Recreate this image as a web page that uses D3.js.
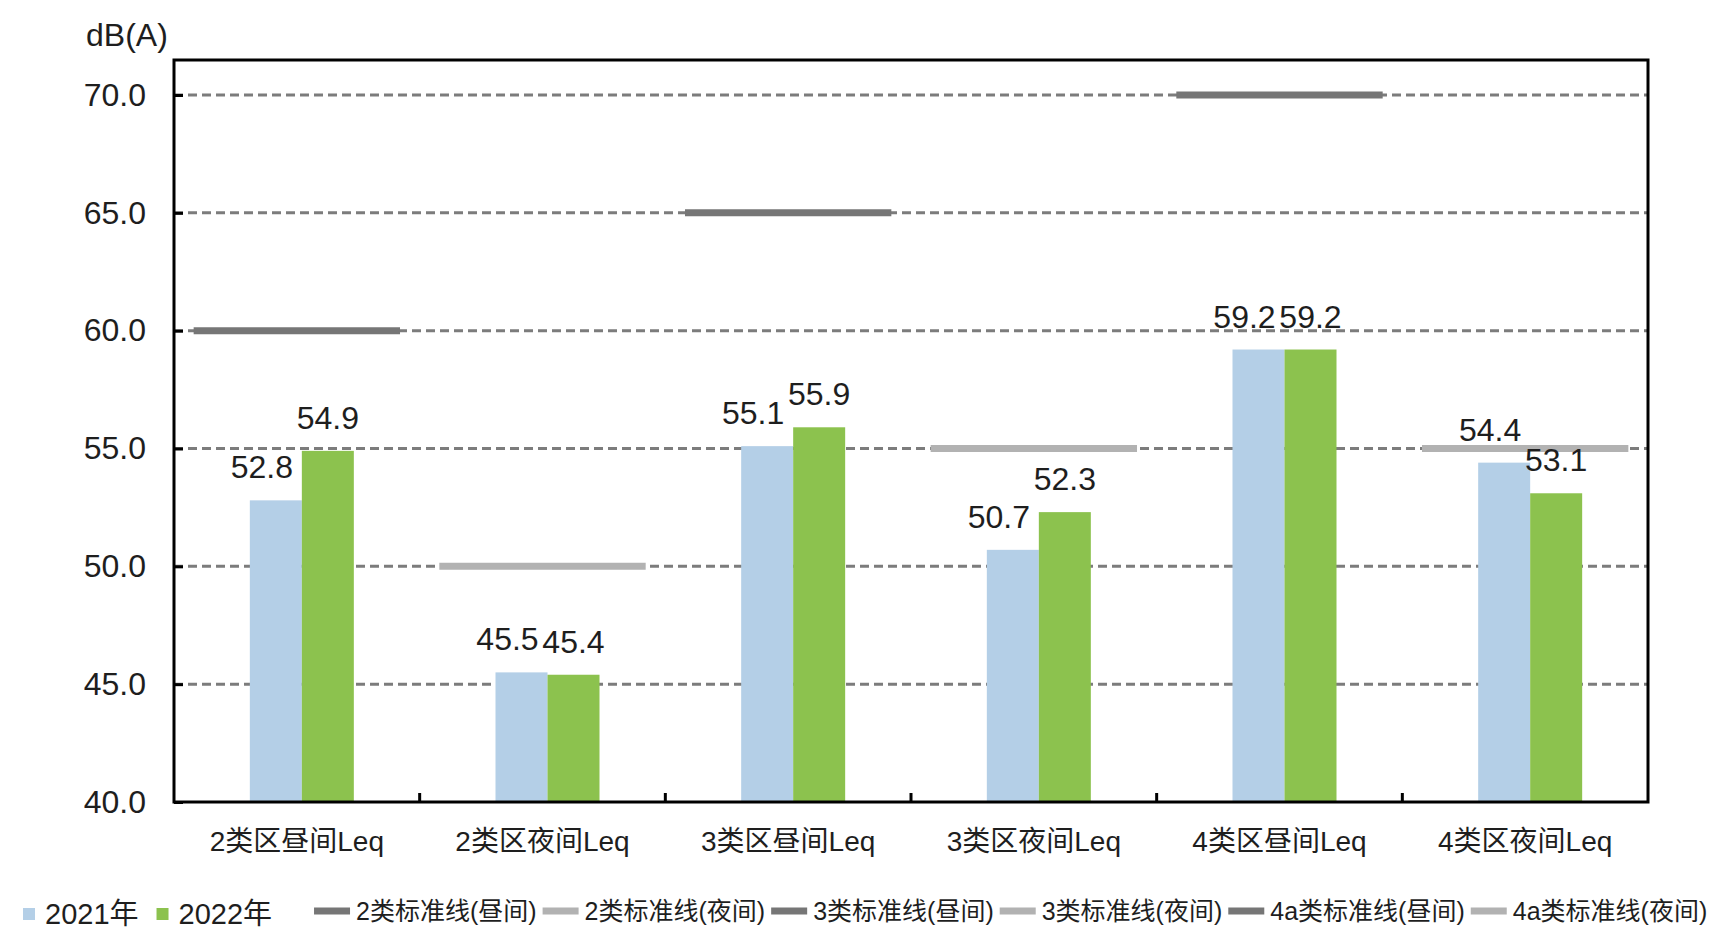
<!DOCTYPE html>
<html>

<head>
    <meta charset="utf-8">
    <script src="https://d3js.org/d3.v7.min.js"></script>
    <style>
        body { margin: 0; background: #fff; }
        svg text { font-family: "Liberation Sans", Arial, "Noto Sans CJK SC", sans-serif; fill: #1e1e1e; }
    </style>
</head>

<body>
    <div id="chart"></div>

    <script>
        // data
        const categories = ["2类区昼间Leq", "2类区夜间Leq", "3类区昼间Leq", "3类区夜间Leq", "4类区昼间Leq", "4类区夜间Leq"]
        const years = ["2021年", "2022年"]
        const values2021 = [52.8, 45.5, 55.1, 50.7, 59.2, 54.4]
        const values2022 = [54.9, 45.4, 55.9, 52.3, 59.2, 53.1]
        const standardNames = ["2类标准线(昼间)", "2类标准线(夜间)", "3类标准线(昼间)", "3类标准线(夜间)", "4a类标准线(昼间)", "4a类标准线(夜间)"]
        const standardValues = [60, 50, 65, 55, 70, 55]
        const yTicks = [40, 45, 50, 55, 60, 65, 70]
        const yUnit = "dB(A)"

        const width = 1733, height = 931
        const plot = { left: 174, right: 1648, top: 60, bottom: 802 }

        const svg = d3.select("#chart").append("svg")
            .attr("width", width)
            .attr("height", height)

        const x = d3.scaleBand().domain(categories).range([plot.left, plot.right])
        const y = d3.scaleLinear().domain([40, 70]).range([plot.bottom, 95])

        const yearColor = d3.scaleOrdinal().domain(years).range(["#b4cfe7", "#8cc24e"])
        // day lines dark, night lines light
        const stdColor = i => i % 2 === 0 ? "#767676" : "#b2b2b2"

        // dashed grid lines
        svg.append("g")
            .selectAll("line")
            .data(yTicks.slice(1))
            .join("line")
            .attr("x1", plot.left)
            .attr("x2", plot.right)
            .attr("y1", d => y(d))
            .attr("y2", d => y(d))
            .attr("stroke", "#7c7c7c")
            .attr("stroke-width", 3)
            .attr("stroke-dasharray", "9,5")

        // standard lines, one per category
        svg.append("g")
            .selectAll("line")
            .data(standardValues)
            .join("line")
            .attr("x1", (d, i) => x(categories[i]) + x.bandwidth() * 0.08)
            .attr("x2", (d, i) => x(categories[i]) + x.bandwidth() * 0.92)
            .attr("y1", d => y(d))
            .attr("y2", d => y(d))
            .attr("stroke", (d, i) => stdColor(i))
            .attr("stroke-width", 7)

        // grouped bars
        const barW = 52
        const xSub = d3.scaleBand().domain(years).range([0, barW * 2])
        const rows = categories.map((c, i) => ({ cat: c, vals: [values2021[i], values2022[i]] }))

        const groups = svg.append("g")
            .selectAll("g")
            .data(rows)
            .join("g")
            .attr("transform", d => `translate(${x(d.cat) + x.bandwidth() / 2 - barW + 5},0)`)

        const cells = groups.selectAll("g")
            .data(d => years.map((yr, j) => ({ year: yr, value: d.vals[j] })))
            .join("g")

        cells.append("rect")
            .attr("x", d => xSub(d.year))
            .attr("y", d => y(d.value))
            .attr("width", xSub.bandwidth())
            .attr("height", d => plot.bottom - y(d.value))
            .attr("fill", d => yearColor(d.year))

        cells.append("text")
            .attr("x", d => xSub(d.year) + xSub.bandwidth() / 2 + (d.year === years[0] ? -14 : 0))
            .attr("y", d => y(d.value) - 22)
            .attr("text-anchor", "middle")
            .style("font-size", "32px")
            .text(d => d.value.toFixed(1))

        // y axis (ticks point inward)
        const yAxis = svg.append("g")
            .attr("transform", `translate(${plot.left},0)`)
            .call(d3.axisLeft(y).tickValues(yTicks).tickFormat(d3.format(".1f")).tickSize(-9).tickPadding(28))
        yAxis.select(".domain").remove()
        yAxis.selectAll("line").attr("stroke", "#000").attr("stroke-width", 3)
        yAxis.selectAll("text").style("font-size", "32px").attr("fill", "#1e1e1e")

        // x axis labels
        const xAxis = svg.append("g")
            .attr("transform", `translate(0,${plot.bottom})`)
            .call(d3.axisBottom(x).tickSize(0).tickPadding(29))
        xAxis.select(".domain").remove()
        xAxis.selectAll("text").style("font-size", "28px").attr("fill", "#1e1e1e")

        // ticks between categories
        svg.append("g")
            .selectAll("line")
            .data(categories.slice(1))
            .join("line")
            .attr("x1", d => x(d))
            .attr("x2", d => x(d))
            .attr("y1", plot.bottom)
            .attr("y2", plot.bottom - 9)
            .attr("stroke", "#000")
            .attr("stroke-width", 3)

        // frame
        svg.append("rect")
            .attr("x", plot.left)
            .attr("y", plot.top)
            .attr("width", plot.right - plot.left)
            .attr("height", plot.bottom - plot.top)
            .attr("fill", "none")
            .attr("stroke", "#000")
            .attr("stroke-width", 3)

        // unit
        svg.append("text")
            .attr("x", 86)
            .attr("y", 46)
            .style("font-size", "32px")
            .text(yUnit)

        // legend along the bottom
        const legend = svg.append("g")
        let cursor = 23
        years.forEach(yr => {
            legend.append("rect")
                .attr("x", cursor).attr("y", 908)
                .attr("width", 12).attr("height", 12)
                .attr("fill", yearColor(yr))
            const t = legend.append("text")
                .attr("x", cursor + 22).attr("y", 924)
                .style("font-size", "29px")
                .text(yr)
            cursor += 22 + t.node().getComputedTextLength() + 18
        })
        cursor += 24
        standardNames.forEach((name, i) => {
            legend.append("line")
                .attr("x1", cursor).attr("x2", cursor + 36)
                .attr("y1", 911).attr("y2", 911)
                .attr("stroke", stdColor(i))
                .attr("stroke-width", 7)
            const t = legend.append("text")
                .attr("x", cursor + 42).attr("y", 920)
                .style("font-size", "25px")
                .text(name)
            cursor += 42 + t.node().getComputedTextLength() + 6
        })
    </script>
</body>

</html>
